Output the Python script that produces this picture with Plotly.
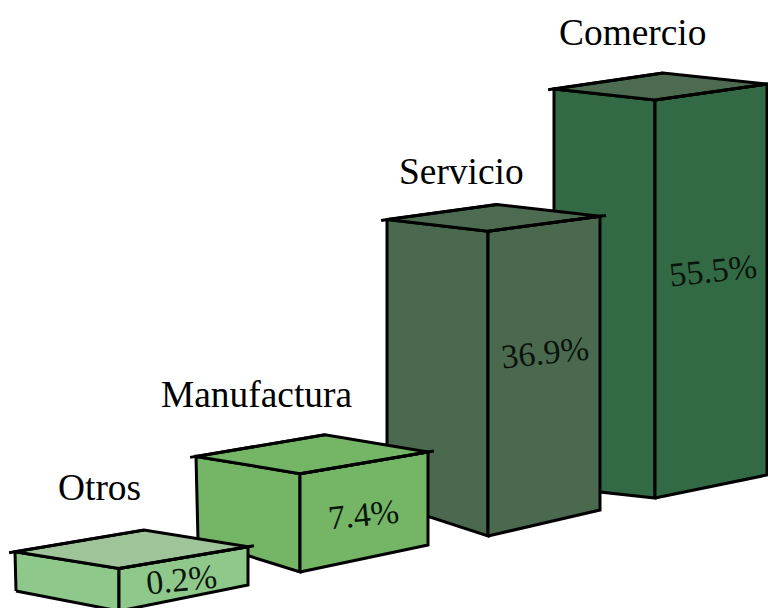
import plotly.graph_objects as go

# --- data ---
categories = ["Comercio", "Servicio", "Manufactura", "Otros"]
values = [55.5, 36.9, 7.4, 0.2]
value_labels = ["55.5%", "36.9%", "7.4%", "0.2%"]

# --- scale: percent -> drawn height of a bar's front edge (pixels, before depth)
HEIGHT_BASE = 41.0
HEIGHT_PER_PCT = 7.75

def bar_height(v, depth):
    return depth * (HEIGHT_BASE + HEIGHT_PER_PCT * v)

# --- geometry / style of each pictured block (canvas = 768x608 pixels)
depths = [0.845, 0.932, 1.0, 1.0]
base_front = [(655, 498), (488, 536), (300, 572), (119, 611)]
base_left = [(554, 487), (387, 503), (198, 540), (16, 591)]
base_right = [(767, 475), (600, 510), (428, 545), (248, 585)]
left_factor = [1.0, 0.93, 0.85, 0.92]
right_factor = [0.982, 0.964, 0.945, 0.90]
left_lean = [0, 0, -2, -1]
back_shift = [-3, -2, 1, 0]
side_colors = ["#326a46", "#4a694f", "#74b566", "#8fc88b"]
top_colors = ["#4d6b50", "#4d6b50", "#74b566", "#9fc49a"]
EDGE = "#000000"
EDGE_W = 3
OVERHANG = 6

cat_xy = [(632.5, 32), (461.5, 171), (256.5, 394), (99, 487)]
val_xy = [(713, 270), (545, 352), (363, 514), (181, 579)]
VAL_ANGLE = -6

fig = go.Figure()


def poly(points, fill=None):
    xs = [p[0] for p in points]
    ys = [p[1] for p in points]
    fig.add_trace(go.Scatter(
        x=xs, y=ys, mode="lines",
        fill="toself" if fill else None,
        fillcolor=fill,
        line=dict(color=EDGE, width=EDGE_W),
        hoverinfo="skip", showlegend=False,
    ))


def extend(a, b, amount):
    dx, dy = b[0] - a[0], b[1] - a[1]
    n = (dx * dx + dy * dy) ** 0.5
    return (b[0] + dx / n * amount, b[1] + dy / n * amount)


for i, v in enumerate(values):
    h = bar_height(v, depths[i])
    bf, bl, br = base_front[i], base_left[i], base_right[i]
    tf = (bf[0], bf[1] - h)
    tl = (bl[0] + left_lean[i], bl[1] - h * left_factor[i])
    tr = (br[0], br[1] - h * right_factor[i])
    tb = (tl[0] + tr[0] - tf[0] + back_shift[i], tl[1] + tr[1] - tf[1])
    poly([bl, bf, tf, tl, bl], side_colors[i])
    poly([bf, br, tr, tf, bf], side_colors[i])
    poly([tf, tr, tb, tl, tf], top_colors[i])
    # small overshoot of the roof edges at the two outer corners
    poly([tb, extend(tb, tl, OVERHANG)])
    poly([tf, extend(tf, tr, OVERHANG)])

for name, (x, y) in zip(categories, cat_xy):
    fig.add_annotation(x=x, y=y, text=name, showarrow=False,
                       font=dict(family="Liberation Serif", size=37.4, color="#000000"))
for label, (x, y) in zip(value_labels, val_xy):
    fig.add_annotation(x=x, y=y, text=label, showarrow=False, textangle=VAL_ANGLE,
                       font=dict(family="Liberation Serif", size=34, color="#0a140a"))

fig.update_layout(
    width=768, height=608,
    margin=dict(l=0, r=0, t=0, b=0),
    paper_bgcolor="white", plot_bgcolor="white",
    xaxis=dict(range=[0, 768], visible=False, fixedrange=True),
    yaxis=dict(range=[608, 0], visible=False, fixedrange=True),
    showlegend=False,
)
fig.write_html(
    "out.html",
    config={"displayModeBar": False},
    post_script="document.body.style.margin='0';document.body.style.overflow='hidden';",
)
